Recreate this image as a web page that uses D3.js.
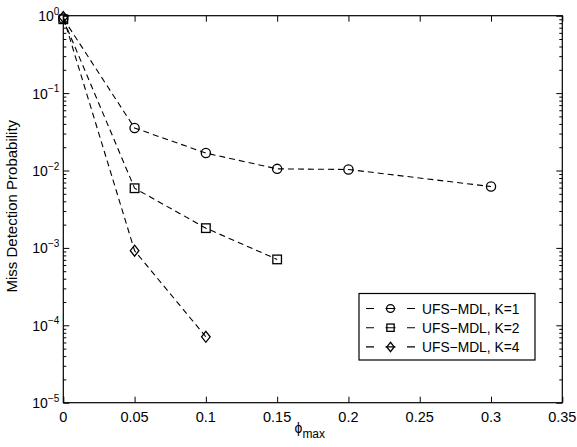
<!DOCTYPE html>
<html><head><meta charset="utf-8">
<script src="https://cdn.jsdelivr.net/npm/d3@7/dist/d3.min.js"></script>
<style>body{margin:0;background:#fff}svg{display:block}text{font-family:"Liberation Sans",Arial,sans-serif}</style>
</head><body><svg id="c" width="577" height="447"></svg>
<script>
const phi = [0, 0.05, 0.1, 0.15, 0.2, 0.3];
const k1 = [0.92, 0.0354, 0.0168, 0.0105, 0.0103, 0.0062];
const phi2 = [0, 0.05, 0.1, 0.15];
const k2 = [0.9, 0.0059, 0.0018, 0.00071];
const phi4 = [0, 0.05, 0.1];
const k4 = [0.96, 0.00092, 0.000071];
const xTicks = [0, 0.05, 0.1, 0.15, 0.2, 0.25, 0.3, 0.35];
const yExps = [0, -1, -2, -3, -4, -5];
const seriesNames = ["UFS\u2212MDL, K=1", "UFS\u2212MDL, K=2", "UFS\u2212MDL, K=4"];
const markers = ["circle", "square", "diamond"];

const svg = d3.select("#c");
const L = 63.3, R = 562.3, T = 15.7, B = 402.7;
const x = d3.scaleLinear().domain([0, 0.35]).range([L, R]);
const y = d3.scaleLog().domain([1e-5, 1]).range([B, T]);

const g = svg.append("g");
const minor = [];
for (let e = -5; e < 0; e++) for (let m = 2; m <= 9; m++) minor.push(m * Math.pow(10, e));
g.append("g").attr("transform", `translate(${L},0)`).call(d3.axisRight(y).tickValues(minor).tickSize(3).tickFormat(""));
g.append("g").attr("transform", `translate(${R},0)`).call(d3.axisLeft(y).tickValues(minor).tickSize(3).tickFormat(""));
g.append("g").attr("transform", `translate(${L},0)`).call(d3.axisRight(y).tickValues(yExps.map(e => Math.pow(10, e))).tickSize(6).tickFormat(""));
g.append("g").attr("transform", `translate(${R},0)`).call(d3.axisLeft(y).tickValues(yExps.map(e => Math.pow(10, e))).tickSize(6).tickFormat(""));
g.append("g").attr("transform", `translate(0,${B})`).call(d3.axisTop(x).tickValues(xTicks).tickSize(6).tickFormat(""));
g.append("g").attr("transform", `translate(0,${T})`).call(d3.axisBottom(x).tickValues(xTicks).tickSize(6).tickFormat(""));
g.selectAll(".domain").remove();
g.selectAll("line").attr("stroke", "#000").attr("stroke-width", 1);
svg.append("rect").attr("x", L).attr("y", T).attr("width", R - L).attr("height", B - T)
  .attr("fill", "none").attr("stroke", "#000").attr("stroke-width", 1.2);

svg.selectAll(".xl").data(xTicks).join("text").attr("x", d => x(d)).attr("y", B + 19)
  .attr("text-anchor", "middle").attr("font-size", 14.5).text(d => d);
yExps.forEach(e => {
  const t = svg.append("text").attr("x", L - 4).attr("y", y(Math.pow(10, e)) + 5.5).attr("text-anchor", "end").attr("font-size", 14);
  t.append("tspan").text("10");
  t.append("tspan").attr("dy", -6.5).attr("font-size", 10).text(e === 0 ? "0" : "\u2212" + (-e));
});
svg.append("text").attr("transform", `translate(17,${(T + B) / 2 - 3}) rotate(-90)`).attr("text-anchor", "middle")
  .attr("font-size", 15).text("Miss Detection Probability");
const xl = svg.append("text").attr("x", x(0.175) - 3).attr("y", 433).attr("text-anchor", "middle").attr("font-size", 14);
xl.append("tspan").text("\u03d5");
xl.append("tspan").attr("dy", 5).attr("font-size", 12).text("max");

const line = d3.line().x(d => x(d[0])).y(d => y(d[1]));
const data = [phi.map((p, i) => [p, k1[i]]), phi2.map((p, i) => [p, k2[i]]), phi4.map((p, i) => [p, k4[i]])];

function marker(sel, type, cx, cy, s) {
  if (type === "circle") sel.append("circle").attr("cx", cx).attr("cy", cy).attr("r", 4.6 * s);
  else if (type === "square") sel.append("rect").attr("x", cx - 4.3 * s).attr("y", cy - 4.3 * s).attr("width", 8.6 * s).attr("height", 8.6 * s);
  else sel.append("path").attr("d", `M${cx},${cy - 5.5 * s}L${cx + 4.3 * s},${cy}L${cx},${cy + 5.5 * s}L${cx - 4.3 * s},${cy}Z`);
}

data.forEach((d, i) => {
  svg.append("path").attr("d", line(d)).attr("fill", "none").attr("stroke", "#000").attr("stroke-width", 1.1)
    .attr("stroke-dasharray", "6,4");
  const mg = svg.append("g").attr("fill", "none").attr("stroke", "#000").attr("stroke-width", 1.3);
  d.forEach(p => marker(mg, markers[i], x(p[0]), y(p[1]), 1));
});

const lg = svg.append("g");
lg.append("rect").attr("x", 359).attr("y", 293.5).attr("width", 176).attr("height", 66.5)
  .attr("fill", "#fff").attr("stroke", "#000").attr("stroke-width", 1.2);
seriesNames.forEach((n, i) => {
  const cy = 308.5 + i * 19.2;
  lg.append("line").attr("x1", 366).attr("x2", 415).attr("y1", cy).attr("y2", cy)
    .attr("stroke", "#000").attr("stroke-width", 1.1).attr("stroke-dasharray", "8,11.5,10,11.5,8");
  const mg = lg.append("g").attr("fill", "none").attr("stroke", "#000").attr("stroke-width", 1.3);
  marker(mg, markers[i], 390.5, cy, 0.85);
  lg.append("text").attr("x", 422).attr("y", cy + 5).attr("font-size", 13.8).text(n);
});
</script></body></html>
